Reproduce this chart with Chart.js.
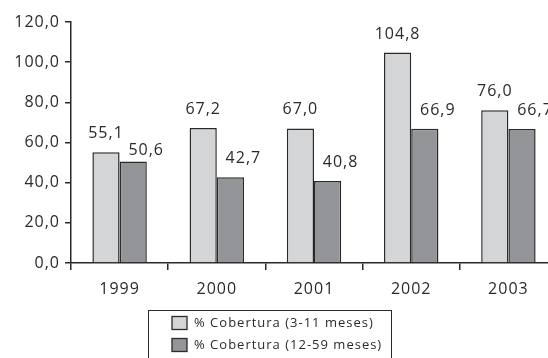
<!DOCTYPE html>
<html>
<head>
<meta charset="utf-8">
<script src="https://cdn.jsdelivr.net/npm/chart.js@4"></script>
<style>
  html, body { margin: 0; padding: 0; background: #fff; overflow: hidden; }
  #wrap { width: 562px; height: 358px; position: relative; }
</style>
</head>
<body>
<div id="wrap"><canvas id="c"></canvas></div>
<script>
// Vaccination coverage by year
const years = ['1999', '2000', '2001', '2002', '2003'];
const coverage3to11 = [55.1, 67.2, 67.0, 104.8, 76.0];
const coverage12to59 = [50.6, 42.7, 40.8, 66.9, 66.7];
const seriesNames = ['% Cobertura (3-11 meses)', '% Cobertura (12-59 meses)'];
const yTickValues = [0, 20, 40, 60, 80, 100, 120];

const INK = '#2a2a2a';
const FONT = "'Open Sans', sans-serif";
const fmt = v => v.toFixed(1).replace('.', ',');

// Slightly wider tracking on all canvas text
const tracking = {
  id: 'tracking',
  beforeDraw(chart) { chart.ctx.letterSpacing = '1px'; }
};

// Value labels above each bar
const valueLabels = {
  id: 'valueLabels',
  afterDatasetsDraw(chart) {
    const ctx = chart.ctx;
    ctx.save();
    ctx.font = '16px ' + FONT;
    ctx.fillStyle = INK;
    ctx.textAlign = 'center';
    ctx.textBaseline = 'alphabetic';
    const lightMeta = chart.getDatasetMeta(0);
    const darkMeta = chart.getDatasetMeta(1);
    lightMeta.data.forEach((bar, i) => {
      const lightBase = bar.y - 14;
      ctx.fillText(fmt(chart.data.datasets[0].data[i]), bar.x, lightBase);
      const dark = darkMeta.data[i];
      let darkBase = dark.y - 14;
      if (darkBase < lightBase + 17) darkBase = lightBase + 17;
      ctx.fillText(fmt(chart.data.datasets[1].data[i]), dark.x + 13, darkBase);
    });
    ctx.restore();
  }
};

// Boxed legend below the axis
const boxLegend = {
  id: 'boxLegend',
  afterDraw(chart) {
    const ctx = chart.ctx;
    ctx.save();
    ctx.strokeStyle = INK;
    ctx.lineWidth = 1;
    ctx.strokeRect(148.5, 310.5, 243, 60);
    ctx.font = '13px ' + FONT;
    ctx.textBaseline = 'middle';
    ctx.textAlign = 'left';
    chart.data.datasets.forEach((ds, i) => {
      const cy = 323 + i * 22;
      ctx.fillStyle = ds.backgroundColor;
      ctx.fillRect(172, cy - 6.5, 15, 13);
      ctx.lineWidth = 1.3;
      ctx.strokeStyle = INK;
      ctx.strokeRect(172, cy - 6.5, 15, 13);
      ctx.fillStyle = INK;
      ctx.fillText(ds.label, 194, cy + 0.5);
    });
    ctx.restore();
  }
};

new Chart(document.getElementById('c'), {
  type: 'bar',
  data: {
    labels: years,
    datasets: [
      { label: seriesNames[0], data: coverage3to11, backgroundColor: '#d4d5d7',
        borderColor: INK, borderWidth: 1.5, borderSkipped: 'bottom' },
      { label: seriesNames[1], data: coverage12to59, backgroundColor: '#939598',
        borderColor: INK, borderWidth: 1.5, borderSkipped: 'bottom' }
    ]
  },
  options: {
    responsive: true,
    maintainAspectRatio: false,
    animation: false,
    devicePixelRatio: 1,
    layout: { padding: { top: 22, right: 5, bottom: 55, left: 0 } },
    datasets: { bar: { categoryPercentage: 0.56, barPercentage: 1.0 } },
    plugins: { legend: { display: false }, tooltip: { enabled: false } },
    scales: {
      x: {
        offset: true,
        grid: { offset: true, drawOnChartArea: false, drawTicks: true, tickLength: 7, color: INK, lineWidth: 1.5 },
        border: { display: true, color: INK, width: 1.5 },
        ticks: { color: INK, font: { family: FONT, size: 16 }, padding: 10 },
        afterFit(scale) { scale.height = 40; }
      },
      y: {
        min: 0, max: 120,
        afterBuildTicks(scale) { scale.ticks = yTickValues.map(v => ({ value: v })); },
        grid: { drawOnChartArea: false, drawTicks: true, tickLength: 6, color: INK, lineWidth: 1.5 },
        border: { display: true, color: INK, width: 1.5 },
        ticks: { color: INK, font: { family: FONT, size: 16 }, padding: 5,
                 callback: v => fmt(v) },
        afterFit(scale) { scale.width = 71; }
      }
    }
  },
  plugins: [tracking, valueLabels, boxLegend]
});
</script>
</body>
</html>
